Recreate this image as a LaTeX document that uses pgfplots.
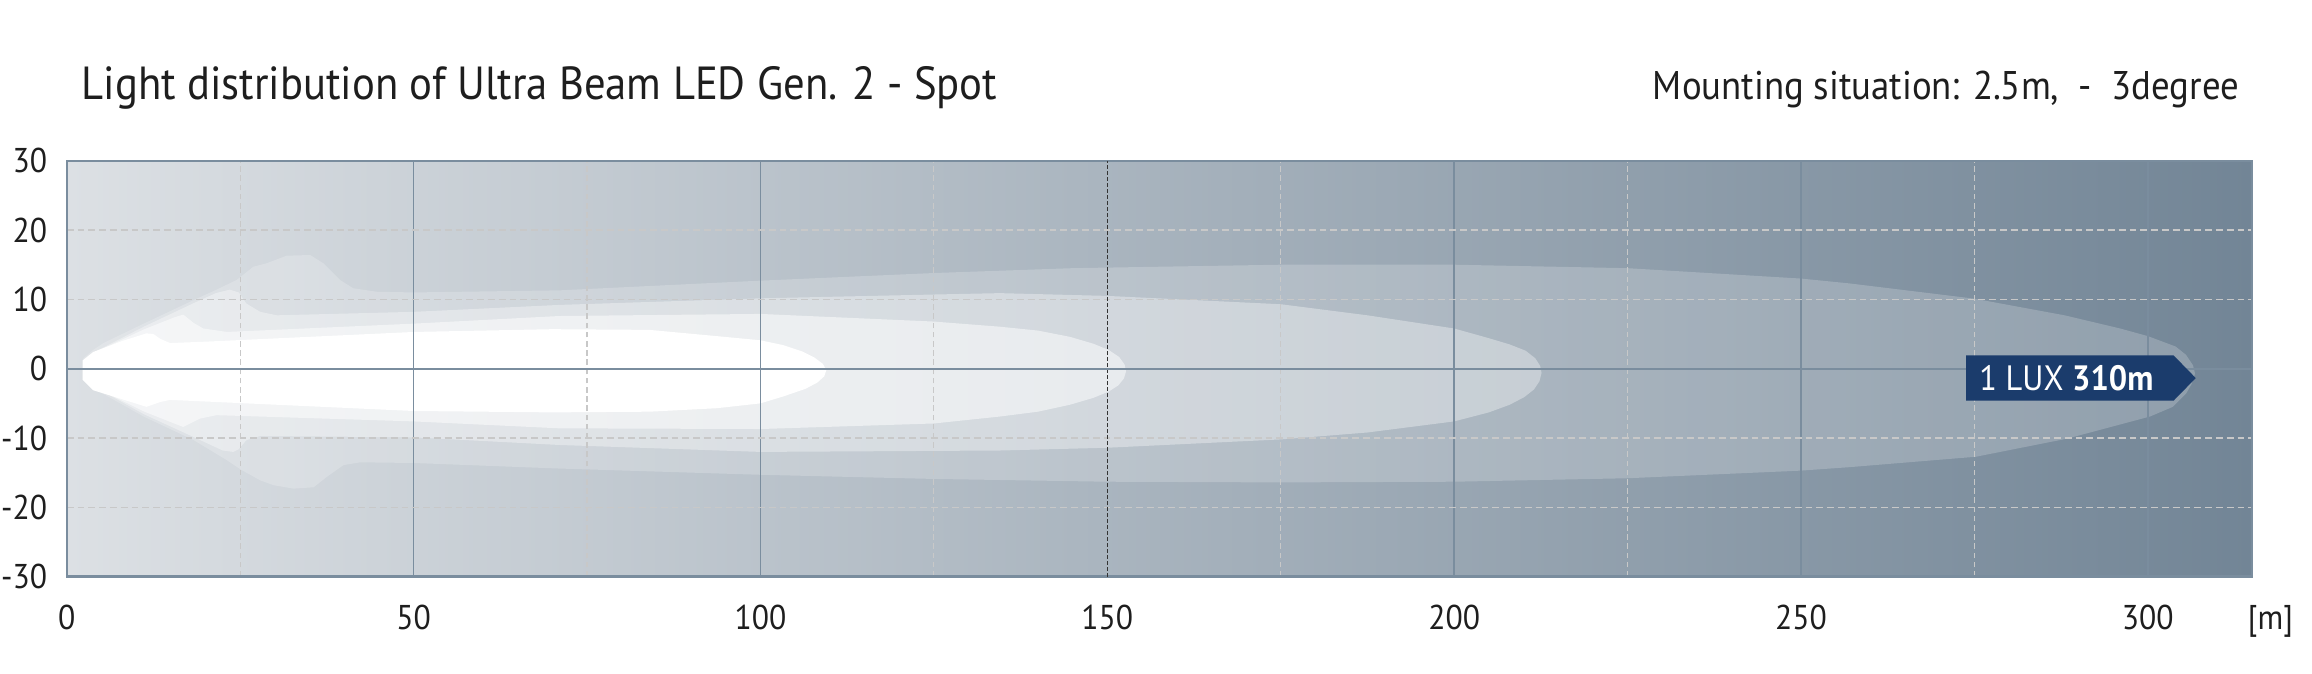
\documentclass[border=0pt]{standalone}
\usepackage{fontspec}
\setmainfont{PT Sans}[FakeStretch=0.92]
\usepackage{pgfplots}
\pgfplotsset{compat=1.18}
\definecolor{bgL}{RGB}{220,224,228}
\definecolor{bgM}{RGB}{172,183,192}
\definecolor{bgR}{RGB}{114,133,150}
\definecolor{slate}{RGB}{122,141,158}
\definecolor{gridlight}{RGB}{200,200,200}
\definecolor{lbxnavy}{RGB}{27,60,108}
\definecolor{txt}{RGB}{30,30,30}
\begin{document}
\begin{tikzpicture}
\path[use as bounding box] (-16.675pt,-24.325pt) rectangle (561.325pt,144.175pt);
\begin{axis}[
  at={(0pt,0pt)}, anchor=south west,
  scale only axis, width=546.3pt, height=104pt,
  xmin=0, xmax=315, ymin=-30, ymax=30,
  axis on top,
  axis background/.style={left color=bgL, middle color=bgM, right color=bgR},
  axis line style={draw=slate, line width=0.6pt},
  xtick={0,50,100,200,250,300},
  extra x ticks={150},
  extra x tick style={grid=major, major x grid style={draw=black!80, dash pattern=on 0.85pt off 0.65pt, line width=0.3pt}},
  minor xtick={25,75,125,175,225,275},
  ytick={-30,-20,-10,10,20,30},
  extra y ticks={0},
  extra y tick style={grid=major, major y grid style={draw=slate, solid, line width=0.45pt}, major grid style={draw=slate, solid, line width=0.45pt}},
  xmajorgrids, xminorgrids, ymajorgrids,
  major x grid style={draw=slate, line width=0.4pt},
  minor x grid style={draw=gridlight, dash pattern=on 1.4pt off 0.9pt, line width=0.3pt},
  major y grid style={draw=gridlight, dash pattern=on 1.7pt off 1pt, line width=0.3pt},
  major tick length=0pt, minor tick length=0pt,
  /pgf/number format/assume math mode=true,
  tick label style={font=\fontsize{8.6}{10}\selectfont, text=txt},
  xticklabel style={anchor=base, yshift=-13.15pt},
  yticklabel style={anchor=east, inner sep=0pt, xshift=-4.7pt},
]
% 1 lux envelope
\addplot[fill=white, fill opacity=0.2, draw=none] coordinates {
(2.3,0) (2.4,1.5) (3.8,2.7) (5.3,3.7) (11.1,6.5) (18.3,9.9) (21.6,11.4) (24.5,12.8) (26.9,14.7) (28.8,15.2) (31.7,16.3) (35.1,16.4) (37.0,15.2) (39.4,12.8) (41.3,11.6) (44.7,11.1) (50,11.0) (71,11.3) (100,12.7) (125,13.8) (145,14.5) (175,15.0) (200,15.0) (225,14.5) (250,13.0) (257,12.3) (275,10.1) (288,7.7) (296,5.8) (300,4.7) (304,3.2) (305.5,2.0) (306.5,0.5) (306.8,-0.7) (306.3,-2.2) (305.5,-3.6) (303.6,-5.5) (300.3,-6.9) (288.3,-10.1) (275.2,-12.7) (257,-14.2) (250,-14.7) (225,-15.8) (200,-16.3) (175,-16.4) (150,-16.3) (125,-15.9) (100,-15.3) (71,-14.4) (50,-13.6) (42.3,-13.5) (39.9,-13.9) (37.5,-15.6) (35.6,-17.1) (32.7,-17.3) (29.8,-16.8) (27.9,-16.1) (25.2,-14.6) (23.1,-13.2) (18.3,-10.3) (11.1,-6.9) (3.8,-2.8) (2.3,-1.6)
} -- cycle;
% second level
\addplot[fill=white, fill opacity=0.35, draw=none] coordinates {
(2.5,0) (2.6,1.3) (4.0,2.4) (11.2,6.1) (18.4,9.5) (21.5,10.9) (23.5,11.4) (24.8,11.0) (25.9,9.4) (27.9,8.2) (30.3,7.7) (50,8.2) (71,9.2) (100,10.15) (125,10.7) (134.5,10.9) (150,10.5) (175,9.3) (187.5,7.7) (200,5.8) (205,4.4) (208,3.5) (210.3,2.6) (211.7,1.5) (212.4,0.4) (212.6,-0.6) (212.3,-1.8) (211.5,-3.0) (210.1,-4.1) (208,-5.2) (205,-6.3) (200,-7.6) (187.5,-9.2) (175,-10.2) (150,-11.4) (134.5,-11.8) (100,-12.0) (71,-11.0) (50,-9.9) (27.9,-9.7) (25.9,-10.3) (24.8,-11.6) (24,-12.0) (22.5,-11.8) (18.4,-9.9) (11.2,-6.6) (4.0,-2.6) (2.5,-1.4)
} -- cycle;
% third level
\addplot[fill=white, fill opacity=0.5, draw=none] coordinates {
(2.4,0) (2.5,1.2) (3.9,2.3) (11.2,5.7) (15.5,7.4) (16.8,7.8) (18.3,6.6) (19.7,5.8) (23.1,5.3) (50,6.5) (71,7.6) (100,7.9) (125,6.8) (134.5,6.06) (140,5.5) (144.6,4.6) (148,3.6) (150.2,2.7) (151.7,1.7) (152.5,0.6) (152.7,-0.4) (152.4,-1.4) (151.6,-2.4) (150.2,-3.3) (148,-4.2) (144.6,-5.2) (140,-6.2) (134.5,-6.9) (125,-7.9) (100,-8.7) (71,-8.6) (50,-7.6) (21.6,-6.7) (19.2,-7.2) (16.8,-8.4) (15.5,-7.9) (11.2,-6.2) (3.9,-2.6) (2.4,-1.3)
} -- cycle;
% brightest level
\addplot[fill=white, draw=none] coordinates {
(2.3,0) (2.3,1.2) (3.8,2.4) (8,4.0) (11.5,5.1) (12.5,5.0) (13.5,4.3) (14.9,3.7) (20,3.9) (50,5.3) (70,5.7) (84,5.6) (93.7,4.7) (100,4.1) (103.3,3.4) (106,2.5) (107.8,1.6) (109,0.7) (109.5,-0.2) (109.2,-1.1) (108.2,-2.0) (106.5,-2.9) (103.3,-4.0) (100,-5.0) (93.7,-5.7) (84,-6.2) (70,-6.3) (50,-6.1) (14.9,-4.5) (13.5,-4.8) (11.5,-5.5) (3.8,-3.1) (2.3,-1.6)
} -- cycle;
\coordinate (bA) at (axis cs:273.8,1.93);
\coordinate (bB) at (axis cs:303.7,1.93);
\coordinate (bC) at (axis cs:306.9,-1.35);
\coordinate (bD) at (axis cs:303.7,-4.62);
\coordinate (bE) at (axis cs:273.8,-4.62);
\coordinate (bT) at (axis cs:275.6,-3.17);
\end{axis}
\fill[lbxnavy] (bA) -- (bB) -- (bC) -- (bD) -- (bE) -- cycle;
\node[anchor=base west, inner sep=0pt, text=white, font=\fontsize{8.8}{10}\selectfont] at (bT) {1 LUX \textbf{310m}};
\node[anchor=base west, inner sep=0pt, text=txt, font=\fontsize{11.6}{14}\selectfont] at (3.6pt,119.35pt) {Light distribution of Ultra Beam LED Gen. 2 - Spot};
\node[anchor=base east, inner sep=0pt, text=txt, font=\fontsize{10}{12}\selectfont] at (543.3pt,119.2pt) {Mounting situation: 2.5m,\ \ -\ \ 3degree};
\node[anchor=base west, inner sep=0pt, text=txt, font=\fontsize{8.6}{10}\selectfont] at (545.1pt,-13.15pt) {[m]};
\end{tikzpicture}
\end{document}
